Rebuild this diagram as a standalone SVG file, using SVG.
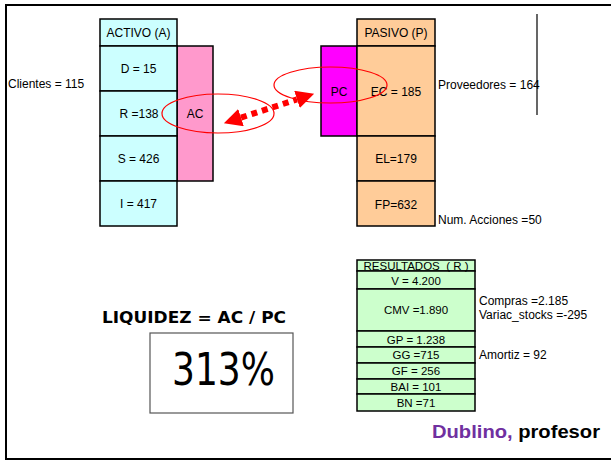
<svg xmlns="http://www.w3.org/2000/svg" width="611" height="461" viewBox="0 0 611 461">
<style>
text{font-family:"Liberation Sans",Arial,sans-serif;font-size:12px;fill:#000}
.c{text-anchor:middle}
.cell{stroke:#000;stroke-width:1.5}
.cy{fill:#CCFFFF}
.pk{fill:#FF99CC}
.mg{fill:#FF00FF}
.or{fill:#FFCC99}
.gr{fill:#CCFFCC;stroke:#000;stroke-width:1.5}
.r{font-size:11.5px}
.ell{fill:none;stroke:#FF0000;stroke-width:1.2}
.comic{font-family:"Comic Sans MS","DejaVu Sans",sans-serif}
.liq{font-weight:bold;font-size:15px}
.big{font-size:44px}
.firma{font-size:18px;font-weight:bold}
</style>
<defs>
<marker id="ah" viewBox="0 -9 18 18" markerUnits="userSpaceOnUse" markerWidth="18" markerHeight="18" refX="0" refY="0" orient="auto-start-reverse">
<path d="M0,-9 L18,0 L0,9 z" fill="#FF0000"/>
</marker>
</defs>
<rect x="0" y="0" width="611" height="461" fill="#fff"/>
<rect x="6" y="5" width="620" height="454" fill="none" stroke="#000" stroke-width="2"/>

<g id="activo">
<rect class="cell pk" x="177" y="46" width="36" height="135"/>
<rect class="cell cy" x="100" y="19" width="77" height="27"/>
<rect class="cell cy" x="100" y="46" width="77" height="45"/>
<rect class="cell cy" x="100" y="91" width="77" height="45"/>
<rect class="cell cy" x="100" y="136" width="77" height="45"/>
<rect class="cell cy" x="100" y="181" width="77" height="45"/>
<text class="c" x="138.5" y="37">ACTIVO (A)</text>
<text class="c" x="138.5" y="73">D = 15</text>
<text class="c" x="139" y="118">R =138</text>
<text class="c" x="138.5" y="163">S = 426</text>
<text class="c" x="138.5" y="208">I = 417</text>
<text class="c" x="195" y="118">AC</text>
</g>
<g id="clientes"><text x="8" y="88">Clientes = 115</text></g>

<g id="pasivo">
<rect class="cell mg" x="321" y="46" width="36" height="90"/>
<rect class="cell or" x="357" y="19" width="78" height="27"/>
<rect class="cell or" x="357" y="46" width="78" height="90"/>
<rect class="cell or" x="357" y="136" width="78" height="45"/>
<rect class="cell or" x="357" y="181" width="78" height="45"/>
<text class="c" x="396" y="37">PASIVO (P)</text>
<text class="c" x="396" y="96">EC = 185</text>
<text class="c" x="396" y="163">EL=179</text>
<text class="c" x="396" y="209">FP=632</text>
<text class="c" x="339" y="96">PC</text>
</g>
<g id="proveedores"><text x="438" y="89">Proveedores = 164</text></g>
<line x1="537" y1="14" x2="537" y2="115" stroke="#000" stroke-width="1.2"/>
<g id="acciones"><text x="438" y="224">Num. Acciones =50</text></g>

<g id="connectors">
<ellipse class="ell" cx="218" cy="113.5" rx="56" ry="19.5"/>
<ellipse class="ell" cx="330.5" cy="85" rx="56.5" ry="18"/>
<path d="M241,117.6 L297,99.4" fill="none" stroke="#FF0000" stroke-width="6" stroke-dasharray="6 5" marker-start="url(#ah)" marker-end="url(#ah)"/>
</g>

<g id="resultados">
<rect class="gr" x="357" y="260" width="118" height="11"/>
<rect class="gr" x="357" y="271" width="118" height="18"/>
<rect class="gr" x="357" y="289" width="118" height="42"/>
<rect class="gr" x="357" y="331" width="118" height="16"/>
<rect class="gr" x="357" y="347" width="118" height="16"/>
<rect class="gr" x="357" y="363" width="118" height="16"/>
<rect class="gr" x="357" y="379" width="118" height="15"/>
<rect class="gr" x="357" y="394" width="118" height="17"/>
<text class="c r" x="416" y="270" xml:space="preserve">RESULTADOS  ( R )</text>
<text class="c r" x="416" y="285">V = 4.200</text>
<text class="c r" x="416" y="314">CMV =1.890</text>
<text class="c r" x="416" y="343.5">GP = 1.238</text>
<text class="c r" x="416" y="359">GG =715</text>
<text class="c r" x="416" y="375">GF = 256</text>
<text class="c r" x="416" y="390.5">BAI = 101</text>
<text class="c r" x="416" y="407">BN =71</text>
</g>
<g id="notas">
<text x="479" y="305">Compras =2.185</text>
<text x="479" y="319">Variac_stocks =-295</text>
<text x="479" y="359">Amortiz = 92</text>
</g>

<g id="liquidez">
<text class="comic liq" x="102" y="323" textLength="184" lengthAdjust="spacingAndGlyphs">LIQUIDEZ = AC / PC</text>
<rect x="150" y="333" width="143" height="80" fill="#fff" stroke="#555" stroke-width="1.2"/>
<text class="comic big" x="172" y="385" textLength="103" lengthAdjust="spacingAndGlyphs">313%</text>
</g>

<g id="firma">
<text class="firma" x="432" y="438" textLength="168" lengthAdjust="spacingAndGlyphs"><tspan fill="#7030A0">Dublino,</tspan> profesor</text>
</g>
</svg>
